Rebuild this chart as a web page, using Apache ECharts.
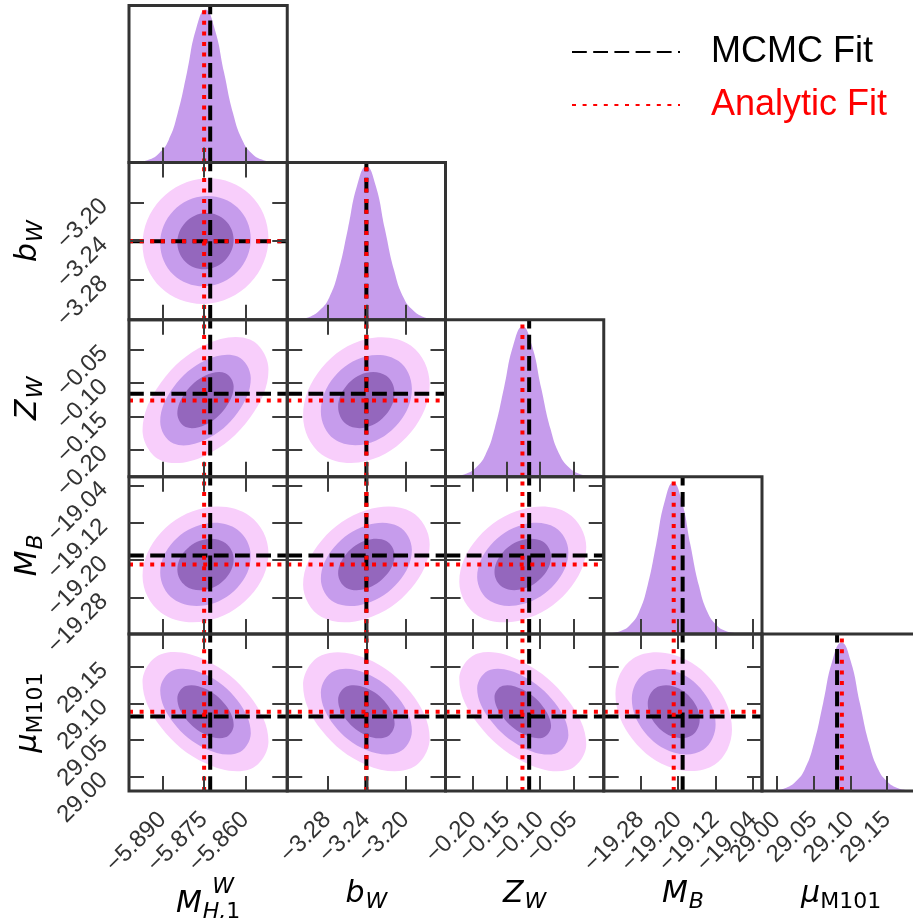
<!DOCTYPE html>
<html><head><meta charset="utf-8">
<script src="https://cdn.jsdelivr.net/npm/echarts@6/dist/echarts.min.js"></script>
<style>html,body{margin:0;padding:0;background:#fff}#c{width:913px;height:918px}</style>
</head><body><div id="c"></div>
<script>
// ---------- data ----------
const paramTitles = ['{sp|W}\n{it|M}{sub|H,}{sbr|1}', '{it|b}{sub|W}', '{it|Z}{sub|W}', '{it|M}{sub|B}', '{it|μ}{sbr|M101}'];
const axisMin = [-5.9021, -3.321, -0.2405, -19.358, 28.980];
const axisMax = [-5.8448, -3.159, -0.0050, -19.021, 29.195];
const tickValues = [
  [-5.890, -5.875, -5.860],
  [-3.28, -3.24, -3.20],
  [-0.20, -0.15, -0.10, -0.05],
  [-19.28, -19.20, -19.12, -19.04],
  [29.00, 29.05, 29.10, 29.15]
];
const tickLabels = [
  ['\u22125.890', '\u22125.875', '\u22125.860'],
  ['\u22123.28', '\u22123.24', '\u22123.20'],
  ['\u22120.20', '\u22120.15', '\u22120.10', '\u22120.05'],
  ['\u221219.28', '\u221219.20', '\u221219.12', '\u221219.04'],
  ['29.00', '29.05', '29.10', '29.15']
];
const mcmcFit = [-5.8727, -3.2400, -0.1160, -19.1900, 29.0820];
const analyticFit = [-5.8749, -3.2400, -0.1260, -19.2090, 29.0885];

const kdeX0 = [-5.9046,-5.9012,-5.8979,-5.8945,-5.8912,-5.8878,-5.8845,-5.8811,-5.8778,-5.8744,-5.8711,-5.8677,-5.8644,-5.8610,-5.8577,-5.8543,-5.8510,-5.8476,-5.8443];
const kdeY0 = [0,.002,.007,.021,.060,.141,.312,.575,.852,.974,.852,.575,.312,.141,.060,.021,.007,.002,0];
const kdeX1 = [-3.3255,-3.3160,-3.3065,-3.2970,-3.2875,-3.2780,-3.2685,-3.2590,-3.2495,-3.2400,-3.2305,-3.2210,-3.2115,-3.2020,-3.1925,-3.1830,-3.1735,-3.1640,-3.1545];
const kdeY1 = [0,.002,.007,.021,.061,.142,.312,.576,.854,.976,.854,.576,.312,.142,.061,.021,.007,.002,0];
const kdeX2 = [-0.2505,-0.2366,-0.2228,-0.2089,-0.1951,-0.1812,-0.1674,-0.1535,-0.1397,-0.1258,-0.1120,-0.0981,-0.0843,-0.0704,-0.0566,-0.0427,-0.0289,-0.0150,-0.0012];
const kdeY2 = [0,.002,.007,.021,.059,.139,.306,.565,.837,.957,.837,.565,.306,.139,.059,.021,.007,.002,0];
const kdeX3 = [-19.3738,-19.3556,-19.3374,-19.3192,-19.3010,-19.2828,-19.2646,-19.2464,-19.2282,-19.2100,-19.1918,-19.1736,-19.1554,-19.1372,-19.1190,-19.1008,-19.0826,-19.0644,-19.0462];
const kdeY3 = [0,.002,.007,.021,.060,.140,.308,.569,.844,.964,.844,.569,.308,.140,.060,.021,.007,.002,0];
const kdeX4 = [28.9755,28.9880,29.0005,29.0130,29.0255,29.0380,29.0505,29.0630,29.0755,29.0880,29.1005,29.1130,29.1255,29.1380,29.1505,29.1630,29.1755,29.1880,29.2005];
const kdeY4 = [0,.002,.007,.021,.059,.137,.302,.558,.827,.945,.827,.558,.302,.137,.059,.021,.007,.002,0];

// 2D credible contours (outer, middle, inner), [x, y] in data units
const C10 = [
 [[-5.8516,-3.2368],[-5.8583,-3.1919],[-5.8744,-3.1753],[-5.8905,-3.1965],[-5.8972,-3.2432],[-5.8905,-3.2881],[-5.8744,-3.3047],[-5.8583,-3.2835]],
 [[-5.8580,-3.2377],[-5.8628,-3.2054],[-5.8744,-3.1935],[-5.8860,-3.2087],[-5.8908,-3.2423],[-5.8860,-3.2746],[-5.8744,-3.2865],[-5.8628,-3.2713]],
 [[-5.8642,-3.2386],[-5.8672,-3.2186],[-5.8744,-3.2111],[-5.8816,-3.2206],[-5.8846,-3.2414],[-5.8816,-3.2614],[-5.8744,-3.2689],[-5.8672,-3.2594]]
];
const C20 = [
 [[-5.8516,-0.0801],[-5.8583,-0.0348],[-5.8744,-0.0426],[-5.8905,-0.0990],[-5.8972,-0.1709],[-5.8905,-0.2162],[-5.8744,-0.2084],[-5.8583,-0.1521]],
 [[-5.8580,-0.0929],[-5.8628,-0.0603],[-5.8744,-0.0659],[-5.8860,-0.1064],[-5.8908,-0.1581],[-5.8860,-0.1907],[-5.8744,-0.1851],[-5.8628,-0.1446]],
 [[-5.8642,-0.1053],[-5.8672,-0.0851],[-5.8744,-0.0886],[-5.8816,-0.1137],[-5.8846,-0.1457],[-5.8816,-0.1659],[-5.8744,-0.1624],[-5.8672,-0.1373]]
];
const C21 = [
 [[-3.1752,-0.1019],[-3.1942,-0.0441],[-3.2400,-0.0340],[-3.2858,-0.0775],[-3.3048,-0.1491],[-3.2858,-0.2069],[-3.2400,-0.2170],[-3.1942,-0.1735]],
 [[-3.1934,-0.1085],[-3.2070,-0.0670],[-3.2400,-0.0598],[-3.2730,-0.0910],[-3.2866,-0.1425],[-3.2730,-0.1840],[-3.2400,-0.1912],[-3.2070,-0.1600]],
 [[-3.2111,-0.1150],[-3.2196,-0.0892],[-3.2400,-0.0847],[-3.2604,-0.1041],[-3.2689,-0.1360],[-3.2604,-0.1618],[-3.2400,-0.1663],[-3.2196,-0.1469]]
];
const C30 = [
 [[-5.8516,-19.1842],[-5.8583,-19.1055],[-5.8744,-19.0874],[-5.8905,-19.1406],[-5.8972,-19.2338],[-5.8905,-19.3125],[-5.8744,-19.3306],[-5.8583,-19.2774]],
 [[-5.8580,-19.1912],[-5.8628,-19.1346],[-5.8744,-19.1216],[-5.8860,-19.1598],[-5.8908,-19.2268],[-5.8860,-19.2834],[-5.8744,-19.2964],[-5.8628,-19.2582]],
 [[-5.8642,-19.1979],[-5.8672,-19.1629],[-5.8744,-19.1548],[-5.8816,-19.1785],[-5.8846,-19.2201],[-5.8816,-19.2551],[-5.8744,-19.2632],[-5.8672,-19.2395]]
];
const C31 = [
 [[-3.1752,-19.1656],[-3.1942,-19.0961],[-3.2400,-19.0928],[-3.2858,-19.1575],[-3.3048,-19.2524],[-3.2858,-19.3219],[-3.2400,-19.3253],[-3.1942,-19.2605]],
 [[-3.1934,-19.1778],[-3.2070,-19.1278],[-3.2400,-19.1254],[-3.2730,-19.1720],[-3.2866,-19.2402],[-3.2730,-19.2902],[-3.2400,-19.2926],[-3.2070,-19.2460]],
 [[-3.2111,-19.1896],[-3.2196,-19.1587],[-3.2400,-19.1572],[-3.2604,-19.1861],[-3.2689,-19.2284],[-3.2604,-19.2593],[-3.2400,-19.2608],[-3.2196,-19.2319]]
];
const C32 = [
 [[-0.0310,-19.1718],[-0.0587,-19.0990],[-0.1255,-19.0906],[-0.1923,-19.1516],[-0.2200,-19.2462],[-0.1923,-19.3190],[-0.1255,-19.3274],[-0.0587,-19.2664]],
 [[-0.0576,-19.1822],[-0.0775,-19.1299],[-0.1255,-19.1239],[-0.1735,-19.1678],[-0.1934,-19.2358],[-0.1735,-19.2881],[-0.1255,-19.2941],[-0.0775,-19.2503]],
 [[-0.0834,-19.1924],[-0.0957,-19.1600],[-0.1255,-19.1563],[-0.1553,-19.1834],[-0.1676,-19.2256],[-0.1553,-19.2580],[-0.1255,-19.2618],[-0.0957,-19.2346]]
];
const C40 = [
 [[-5.8516,29.0478],[-5.8583,29.1096],[-5.8744,29.1591],[-5.8905,29.1672],[-5.8972,29.1293],[-5.8905,29.0674],[-5.8744,29.0179],[-5.8583,29.0098]],
 [[-5.8580,29.0592],[-5.8628,29.1037],[-5.8744,29.1393],[-5.8860,29.1451],[-5.8908,29.1178],[-5.8860,29.0733],[-5.8744,29.0378],[-5.8628,29.0319]],
 [[-5.8642,29.0704],[-5.8672,29.0979],[-5.8744,29.1199],[-5.8816,29.1236],[-5.8846,29.1067],[-5.8816,29.0791],[-5.8744,29.0571],[-5.8672,29.0534]]
];
const C41 = [
 [[-3.1752,29.0518],[-3.1942,29.1140],[-3.2400,29.1613],[-3.2858,29.1659],[-3.3048,29.1252],[-3.2858,29.0630],[-3.2400,29.0157],[-3.1942,29.0111]],
 [[-3.1934,29.0621],[-3.2070,29.1069],[-3.2400,29.1408],[-3.2730,29.1442],[-3.2866,29.1149],[-3.2730,29.0701],[-3.2400,29.0362],[-3.2070,29.0329]],
 [[-3.2111,29.0722],[-3.2196,29.0999],[-3.2400,29.1209],[-3.2604,29.1230],[-3.2689,29.1048],[-3.2604,29.0771],[-3.2400,29.0561],[-3.2196,29.0540]]
];
const C42 = [
 [[-0.0310,29.0437],[-0.0587,29.1049],[-0.1255,29.1566],[-0.1923,29.1683],[-0.2200,29.1333],[-0.1923,29.0721],[-0.1255,29.0204],[-0.0587,29.0087]],
 [[-0.0576,29.0563],[-0.0775,29.1003],[-0.1255,29.1374],[-0.1735,29.1459],[-0.1934,29.1207],[-0.1735,29.0767],[-0.1255,29.0396],[-0.0775,29.0311]],
 [[-0.0834,29.0685],[-0.0957,29.0958],[-0.1255,29.1188],[-0.1553,29.1241],[-0.1676,29.1085],[-0.1553,29.0812],[-0.1255,29.0582],[-0.0957,29.0530]]
];
const C43 = [
 [[-19.0849,29.0641],[-19.1212,29.1262],[-19.2090,29.1663],[-19.2968,29.1608],[-19.3331,29.1130],[-19.2968,29.0508],[-19.2090,29.0108],[-19.1212,29.0162]],
 [[-19.1198,29.0709],[-19.1459,29.1156],[-19.2090,29.1444],[-19.2721,29.1405],[-19.2982,29.1061],[-19.2721,29.0614],[-19.2090,29.0326],[-19.1459,29.0365]],
 [[-19.1537,29.0776],[-19.1699,29.1053],[-19.2090,29.1231],[-19.2481,29.1207],[-19.2643,29.0994],[-19.2481,29.0717],[-19.2090,29.0539],[-19.1699,29.0563]]
];

// ---------- build ----------
const kdeX = [kdeX0, kdeX1, kdeX2, kdeX3, kdeX4];
const kdeY = [kdeY0, kdeY1, kdeY2, kdeY3, kdeY4];
const contours = {'1_0': C10, '2_0': C20, '2_1': C21, '3_0': C30, '3_1': C31, '3_2': C32, '4_0': C40, '4_1': C41, '4_2': C42, '4_3': C43};
const levelColors = ['#f8cefb', '#c69cec', '#9467bd'];
const kdeColor = '#c69cec';

const N = 5, LEFT = 129, CW = 158.25, TOP = 5.5, RH = 157.1;
const RICH = {
  it: {fontFamily: 'DejaVu Sans', fontStyle: 'italic', fontSize: 30, color: '#000', lineHeight: 32},
  sub: {fontFamily: 'DejaVu Sans', fontStyle: 'italic', fontSize: 22, color: '#000', lineHeight: 22, padding: [16, 0, 0, 1]},
  sbr: {fontFamily: 'DejaVu Sans', fontSize: 22, color: '#000', lineHeight: 22, padding: [16, 0, 0, 0]},
  sp: {fontFamily: 'DejaVu Sans', fontStyle: 'italic', fontSize: 22, color: '#000', lineHeight: 2, padding: [0, 0, 0, 30]}
};
function fmtTick(p, v) {
  let k = 0, best = Infinity;
  tickValues[p].forEach((t, idx) => { const d = Math.abs(t - v); if (d < best) { best = d; k = idx; } });
  return tickLabels[p][k];
}
// labels are split over two coincident axes (even / odd ticks) so that none gets auto-hidden
function makeAxis(dim, p, g, pos, withLabels, part) {
  const labelVals = part == null ? tickValues[p] : tickValues[p].filter((_, k) => k % 2 === part);
  const a = {
    type: 'value', gridIndex: g, position: pos, offset: 0, min: axisMin[p], max: axisMax[p], z: 10,
    axisLine: {show: false}, splitLine: {show: false},
    axisTick: {show: part !== 1, inside: true, length: 15, customValues: tickValues[p], lineStyle: {color: '#3c3c3c', width: 2}},
    axisLabel: {show: withLabels, customValues: labelVals, rotate: 45, margin: 25, fontSize: 24,
      showMinLabel: true, showMaxLabel: true, hideOverlap: false,
      fontFamily: 'Liberation Sans', color: '#333', formatter: v => fmtTick(p, v)},
    nameMoveOverlap: false
  };
  if (withLabels && part !== 1) {
    a.name = paramTitles[p];
    a.nameLocation = 'middle';
    a.nameRotate = dim === 'y' ? 90 : 0;
    a.nameGap = dim === 'y' ? 85 : (p === 0 ? 95 : 87);
    a.nameTextStyle = {fontFamily: 'DejaVu Sans', fontSize: 30, color: '#000', rich: RICH};
  }
  return a;
}
const grids = [], xAxes = [], yAxes = [], series = [];
const mcmcStyle = {color: '#000', width: 4, type: [14.8, 6.4]};
const anaStyle = {color: '#ff0000', width: 4, type: [4, 6.6]};
function lineSeries(name, style, xi, yi, data, z) {
  series.push({type: 'line', name, xAxisIndex: xi, yAxisIndex: yi, data, symbol: 'none', silent: true,
    lineStyle: style, itemStyle: {color: style.color, opacity: 0}, z, clip: true});
}
for (let i = 0; i < N; i++) {
  for (let j = 0; j <= i; j++) {
    const g = grids.length;
    grids.push({left: LEFT + j * CW, top: TOP + i * RH, width: CW, height: RH, show: true,
      borderColor: '#333', borderWidth: 3, backgroundColor: 'rgba(0,0,0,0)', z: 10,
      containLabel: false, outerBoundsMode: 'none'});
    const diag = i === j;
    const xLab = i === N - 1;
    const xi = xAxes.length;
    xAxes.push(makeAxis('x', j, g, 'bottom', xLab, xLab ? 0 : null));
    if (xLab) xAxes.push(makeAxis('x', j, g, 'bottom', true, 1));
    if (!diag) xAxes.push(makeAxis('x', j, g, 'top', false, null));
    const yi = yAxes.length;
    if (diag) {
      yAxes.push({type: 'value', gridIndex: g, min: 0, max: 1, show: false});
      series.push({type: 'line', xAxisIndex: xi, yAxisIndex: yi, silent: true, symbol: 'none',
        data: kdeX[i].map((x, k) => [x, kdeY[i][k]]), smooth: 0.5,
        lineStyle: {width: 0, color: kdeColor}, itemStyle: {color: kdeColor},
        areaStyle: {color: kdeColor, opacity: 1}, z: 2, clip: true});
      lineSeries('MCMC Fit', mcmcStyle, xi, yi, [[mcmcFit[i], 0], [mcmcFit[i], 1]], 3);
      lineSeries('Analytic Fit', anaStyle, xi, yi, [[analyticFit[i], 0], [analyticFit[i], 1]], 4);
    } else {
      const yLab = j === 0;
      yAxes.push(makeAxis('y', i, g, 'left', yLab, yLab ? 0 : null));
      if (yLab) yAxes.push(makeAxis('y', i, g, 'left', true, 1));
      yAxes.push(makeAxis('y', i, g, 'right', false, null));
      const polys = contours[i + '_' + j];
      series.push({type: 'custom', xAxisIndex: xi, yAxisIndex: yi, silent: true, z: 2, clip: true,
        encode: {x: 0, y: 1},
        data: polys.map((poly, k) => [poly[0][0], poly[0][1], k]),
        renderItem: function (params, api) {
          const k = api.value(2);
          const pts = polys[k].map(p => api.coord(p));
          return {type: 'polygon', shape: {points: pts, smooth: 0.375}, style: {fill: levelColors[k], stroke: null}};
        }});
      lineSeries('MCMC Fit', mcmcStyle, xi, yi, [[mcmcFit[j], axisMin[i]], [mcmcFit[j], axisMax[i]]], 3);
      lineSeries('MCMC Fit', mcmcStyle, xi, yi, [[axisMin[j], mcmcFit[i]], [axisMax[j], mcmcFit[i]]], 3);
      lineSeries('Analytic Fit', anaStyle, xi, yi, [[analyticFit[j], axisMin[i]], [analyticFit[j], axisMax[i]]], 4);
      lineSeries('Analytic Fit', anaStyle, xi, yi, [[axisMin[j], analyticFit[i]], [axisMax[j], analyticFit[i]]], 4);
    }
  }
}
const chart = echarts.init(document.getElementById('c'), null, {renderer: 'canvas'});
chart.setOption({
  animation: false,
  backgroundColor: '#fff',
  grid: grids, xAxis: xAxes, yAxis: yAxes, series,
  legend: {
    orient: 'vertical', left: 571, top: 32, padding: 0, itemWidth: 108, itemHeight: 14, itemGap: 13,
    selectedMode: false, itemStyle: {opacity: 0},
    data: [{name: 'MCMC Fit', textStyle: {color: '#000'}}, {name: 'Analytic Fit', textStyle: {color: '#ff0000'}}],
    textStyle: {fontFamily: 'Liberation Sans', fontSize: 36, lineHeight: 40, padding: [0, 0, 0, 26]}
  }
});
</script></body></html>
